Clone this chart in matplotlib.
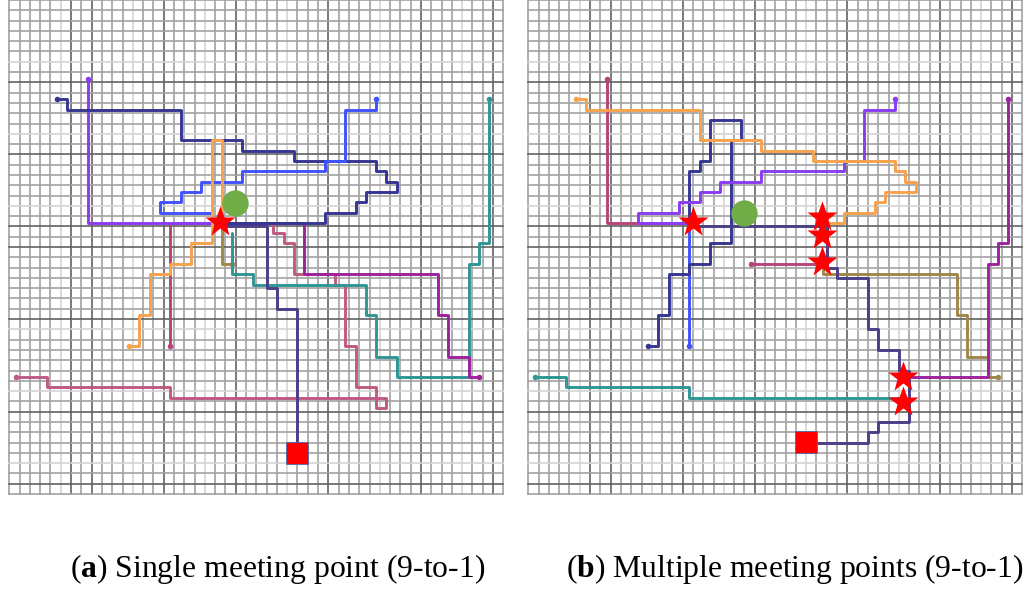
import matplotlib.pyplot as plt

plt.rcParams['font.family'] = 'Liberation Serif'
plt.rcParams['mathtext.fontset'] = 'custom'
plt.rcParams['mathtext.rm'] = 'Liberation Serif'
plt.rcParams['mathtext.bf'] = 'Liberation Serif:bold'

# map is N x N cells
N = 48

# grid lines that come out darker / lighter on the map
dark_cols = [6, 8, 15, 22, 31, 40, 47]
light_cols = [5, 12, 19, 27, 36, 44]
dark_rows = [8, 15, 22, 24, 31, 40, 47]
light_rows = [6, 13, 20, 32, 38, 45]

# ---- (a) single meeting point: routes as (col, row) cells ----
a_violet = [(7, 7), (7, 21), (20, 21)]
a_navy = [(4, 9), (5, 9), (5, 10), (16, 10), (16, 13), (22, 13), (22, 14), (27, 14),
          (27, 15), (35, 15), (35, 16), (36, 16), (36, 17), (37, 17), (37, 18),
          (34, 18), (34, 19), (33, 19), (33, 20), (30, 20), (30, 21), (20, 21)]
a_blue = [(35, 9), (35, 10), (32, 10), (32, 15), (30, 15), (30, 16), (22, 16),
          (22, 17), (18, 17), (18, 18), (16, 18), (16, 19), (14, 19), (14, 20), (19, 20)]
a_orange = [(11, 33), (12, 33), (12, 30), (13, 30), (13, 26), (15, 26), (15, 25),
            (17, 25), (17, 23), (19, 23), (19, 13), (20, 13), (20, 21)]
a_raspberry = [(15, 33), (15, 21), (20, 21)]
a_olive = [(21, 25), (20, 25), (20, 21)]
a_teal = [(46, 9), (46, 23), (45, 23), (45, 25), (44, 25), (44, 36), (37, 36),
          (37, 34), (35, 34), (35, 30), (34, 30), (34, 27), (23, 27), (23, 26),
          (21, 26), (21, 22)]
a_magenta = [(45, 36), (44, 36), (44, 34), (42, 34), (42, 30), (41, 30), (41, 26),
             (28, 26), (28, 21), (20, 21)]
a_pink = [(0, 36), (3, 36), (3, 37), (15, 37), (15, 38), (36, 38), (36, 39), (35, 39),
          (35, 37), (33, 37), (33, 33), (32, 33), (32, 27), (31, 27), (31, 26),
          (27, 26), (27, 23), (26, 23), (26, 22), (25, 22), (25, 21), (20, 21)]
# route to the goal, runs on the grid lines
a_goal_route = [(21, 22), (25, 22), (25, 28), (26, 28), (26, 30), (28, 30), (28, 43)]
a_meet = [(20.5, 21.55)]
a_start = (21.95, 19.75)
a_goal = (28, 44)

# ---- (b) multiple meeting points ----
b_violet = [(35, 9), (35, 10), (32, 10), (32, 15), (30, 15), (30, 16), (22, 16),
            (22, 17), (18, 17), (18, 18), (16, 18), (16, 19), (14, 19), (14, 20),
            (10, 20), (10, 21), (15, 21)]
b_orange = [(4, 9), (5, 9), (5, 10), (16, 10), (16, 13), (22, 13), (22, 14), (27, 14),
            (27, 15), (35, 15), (35, 16), (36, 16), (36, 17), (37, 17), (37, 18),
            (34, 18), (34, 19), (33, 19), (33, 20), (30, 20), (30, 21), (28, 21)]
b_raspberry = [(7, 7), (7, 21), (15, 21)]
b_navy = [(11, 33), (12, 33), (12, 30), (13, 30), (13, 26), (15, 26), (15, 25),
          (17, 25), (17, 23), (19, 23), (19, 13), (20, 13), (20, 11), (17, 11),
          (17, 15), (16, 15), (16, 16), (15, 16), (15, 21)]
b_blue = [(15, 33), (15, 21)]
b_teal = [(0, 36), (3, 36), (3, 37), (15, 37), (15, 38), (36, 38)]
b_magenta = [(46, 9), (46, 23), (45, 23), (45, 25), (44, 25), (44, 36), (36, 36)]
b_olive = [(45, 36), (44, 36), (44, 34), (42, 34), (42, 30), (41, 30), (41, 26),
           (28, 26), (28, 25)]
b_pink = [(21, 25), (28, 25)]
b_goal_route = [(16, 22), (29, 22), (29, 26), (30, 26), (30, 27), (33, 27), (33, 32),
                (34, 32), (34, 34), (36, 34), (36, 36), (37, 36), (37, 41), (34, 41),
                (34, 42), (33, 42), (33, 43), (28, 43)]
b_meet = [(16.0, 21.55), (28.5, 21.05), (28.5, 22.85), (28.5, 25.45),
          (36.45, 36.6), (36.45, 39.1)]
b_start = (20.95, 20.7)
b_goal = (26.95, 42.95)

VIOLET = '#8b3cf2'
NAVY = '#363692'
BLUE = '#3f52ff'
ORANGE = '#f8a24c'
RASP = '#b6457a'
OLIVE = '#a08648'
TEAL = '#2f9696'
MAGENTA = '#9e229e'
PINK = '#c05a82'
INDIGO = '#4b3f88'


def draw_grid(ax):
    for k in range(N + 1):
        c = '#a2a2a2'
        if k in dark_cols:
            c = '#626262'
        elif k in light_cols:
            c = '#d4d4d4'
        ax.plot([k, k], [0, N], color=c, lw=1.2, zorder=1, clip_on=False)
    for k in range(N + 1):
        c = '#a2a2a2'
        if k in dark_rows:
            c = '#626262'
        elif k in light_rows:
            c = '#d4d4d4'
        ax.plot([0, N], [k, k], color=c, lw=1.2, zorder=1, clip_on=False)


def draw_route(ax, pts, color, off=0.65, dot=True):
    xs = [p[0] + off for p in pts]
    ys = [p[1] + off for p in pts]
    ax.plot(xs, ys, color=color, lw=2.1, solid_joinstyle='round',
            solid_capstyle='round', zorder=3)
    if dot:
        ax.plot(xs[0], ys[0], 'o', color=color, ms=4, mec='none', zorder=3)


def draw_panel(ax, routes, goal_route, meets, start, goal):
    ax.set_xlim(0, N)
    ax.set_ylim(N, 0)
    ax.axis('off')
    draw_grid(ax)
    for pts, col in routes:
        draw_route(ax, pts, col)
    draw_route(ax, goal_route, INDIGO, off=0.0, dot=False)
    ax.plot(start[0], start[1], 'o', color='#70ad47', ms=19, mec='none', zorder=5)
    ax.plot(goal[0], goal[1], 's', color='#ff0000', ms=15.5, mec='#4a6fb0', mew=0.6, zorder=5)
    for x, y in meets:
        ax.plot(x, y, '*', color='#ff0000', ms=23, mec='none', zorder=6)


fig = plt.figure(figsize=(10.28, 5.91), dpi=100)
axa = fig.add_axes([9.3 / 1028, 97 / 591, 494 / 1028, 494 / 591])
axb = fig.add_axes([528.3 / 1028, 97 / 591, 494 / 1028, 494 / 591])

draw_panel(axa,
           [(a_pink, PINK), (a_raspberry, RASP), (a_olive, OLIVE), (a_teal, TEAL),
            (a_magenta, MAGENTA), (a_violet, VIOLET), (a_navy, NAVY),
            (a_blue, BLUE), (a_orange, ORANGE)],
           a_goal_route, a_meet, a_start, a_goal)
draw_panel(axb,
           [(b_teal, TEAL), (b_raspberry, RASP), (b_pink, RASP), (b_olive, OLIVE),
            (b_magenta, MAGENTA), (b_blue, BLUE), (b_navy, NAVY),
            (b_violet, VIOLET), (b_orange, ORANGE)],
           b_goal_route, b_meet, b_start, b_goal)

fig.text(277.5 / 1028, 1 - 569 / 591, r'($\mathbf{a}$) Single meeting point (9-to-1)',
         ha='center', va='center', fontsize=22.8)
fig.text(794.5 / 1028, 1 - 569 / 591, r'($\mathbf{b}$) Multiple meeting points (9-to-1)',
         ha='center', va='center', fontsize=22.8)

fig.savefig('out.png', dpi=100)
